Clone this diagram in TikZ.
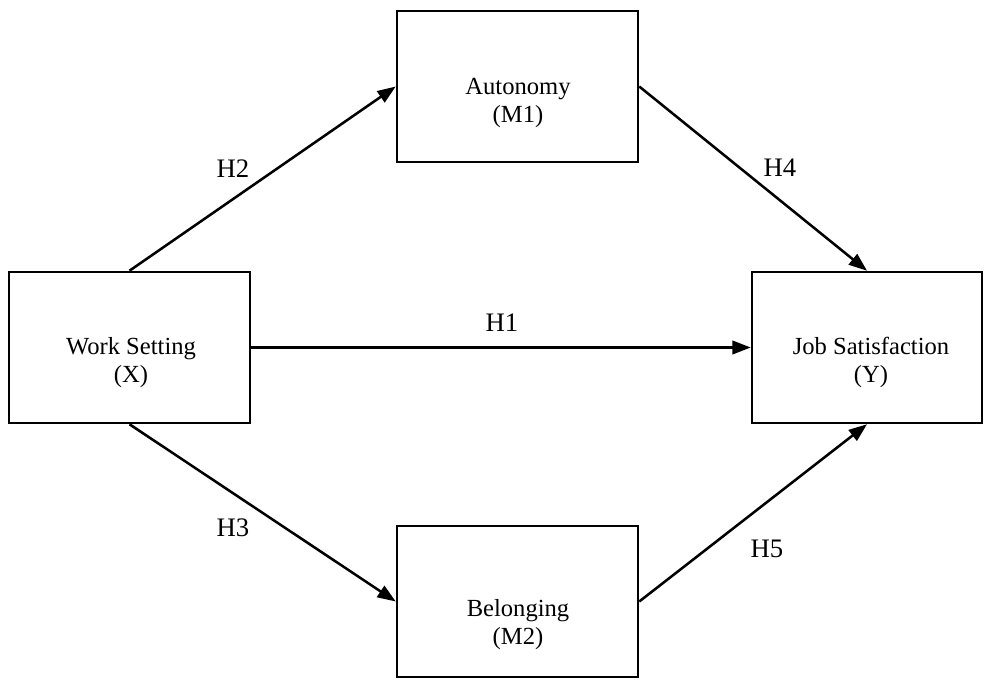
\documentclass[tikz,border=0pt]{standalone}
\usepackage{fontspec}
\setmainfont{Liberation Serif}
\usepackage{tikz}
\usetikzlibrary{arrows.meta}

\begin{document}
\begin{tikzpicture}[
		box/.style={draw, line width=1.8pt, minimum height=3.775cm},
		boxtext/.style={align=center, font=\fontsize{17.5}{20}\selectfont},
		hyp/.style={font=\fontsize{19}{22}\selectfont},
		arr/.style={-{Triangle[length=13pt,width=9.5pt]}, line width=1.8pt}]
		\useasboundingbox (0,0) rectangle (24.6,16.975);

		\node[box, minimum width=6.025cm] (m1) at (12.9375,14.8125) {};
		\node[box, minimum width=6.025cm] (x) at (3.2375,8.2875) {};
		\node[box, minimum width=5.75cm] (y) at (21.675,8.2875) {};
		\node[box, minimum width=6.025cm] (m2) at (12.9375,1.9375) {};

		\node[boxtext] (m1txt) at (12.95,14.4) {Autonomy\\(M1)};
		\node[boxtext] (xtxt) at (3.275,7.91) {Work Setting\\(X)};
		\node[boxtext] (ytxt) at (21.775,7.92) {Job Satisfaction\\(Y)};
		\node[boxtext] (m2txt) at (12.95,1.36) {Belonging\\(M2)};

		\draw[arr] (x.east) -- (y.west);
		\draw[arr] (x.north) -- (m1.west);
		\draw[arr] (x.south) -- (m2.west);
		\draw[arr] (m1.east) -- (y.north);
		\draw[arr] (m2.east) -- (y.south);

		\node[hyp] (h1) at (12.55,8.9) {H1};
		\node[hyp] (h2) at (5.825,12.75) {H2};
		\node[hyp] (h3) at (5.825,3.775) {H3};
		\node[hyp] (h4) at (19.5,12.775) {H4};
		\node[hyp] (h5) at (19.175,3.25) {H5};
	\end{tikzpicture}
\end{document}
